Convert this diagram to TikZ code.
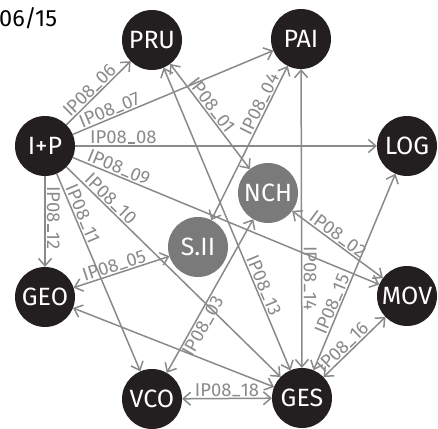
\documentclass[tikz,border=0pt]{standalone}
\usepackage{fontspec}
\setmainfont{Fira Sans}
\usetikzlibrary{arrows.meta}
\definecolor{ink}{RGB}{35,31,32}
\definecolor{midgrey}{RGB}{122,122,122}
\definecolor{wire}{RGB}{138,138,138}
% underscore sitting on the baseline
\newcommand\usc{\kern0.04em\rule{0.42em}{0.075em}\kern0.04em}
\begin{document}
\begin{tikzpicture}[
  hub/.style={circle, fill=ink, text=white, minimum size=60pt, inner sep=0pt, outer sep=0pt,
    font=\fontsize{25}{25}\selectfont},
  subhub/.style={hub, fill=midgrey},
  barb/.tip={Straight Barb[length=7.5pt,width=13pt]},
  link/.style={draw=wire, line width=1.5pt, -barb},
  both/.style={link, barb-barb},
  tag/.style={sloped, text=wire, inner sep=1.2pt, font=\fontsize{18.5}{18.5}\selectfont},
]
\useasboundingbox (0,0) rectangle (438pt,-428pt);

\node[anchor=base west, inner sep=0pt, font=\fontsize{23.5}{23.5}\selectfont] (date) at (-1pt,-27pt) {06/15};

% outer ring
\node[hub] (pru) at (152pt,-40pt)  {PRU};
\node[hub] (pai) at (301pt,-39pt)  {PAI};
\node[hub] (log) at (407pt,-146pt) {LOG};
\node[hub] (mov) at (407pt,-296pt) {MOV};
\node[hub] (ges) at (302pt,-398pt) {GES};
\node[hub] (vco) at (152pt,-399pt) {VCO};
\node[hub] (geo) at (45pt,-297pt)  {GEO};
\node[hub] (ip)  at (45pt,-146pt)  {I+P};
% inner nodes
\node[subhub] (nch) at (268pt,-193pt) {NCH};
\node[subhub] (sii) at (198pt,-247pt) {S.II};

% links leaving I+P
\draw[link] (ip) -- node[tag, above, pos=.45] {IP08\usc06} (pru);
\draw[link] (ip) -- node[tag, above, pos=.2]  {IP08\usc07} (pai);
\draw[link] (ip) -- node[tag, above, pos=.16] {IP08\usc08} (log);
\draw[link] (ip) -- node[tag, above, pos=.14] {IP08\usc09} (mov);
\draw[link] (ip) -- node[tag, above, pos=.18] {IP08\usc10} (ges);
\draw[link] (ip) -- node[tag, above, pos=.22] {IP08\usc11} (vco);
\draw[link] (ip) -- node[tag, above, pos=.46] {IP08\usc12} (geo);

% two-way links
\draw[both] (geo) -- node[tag, above, pos=.45] {IP08\usc05} (sii);
\draw[both] (pru) -- node[tag, above, pos=.44] {IP08\usc01} (nch);
\draw[both] (sii) -- node[tag, above, pos=.73] {IP08\usc04} (pai);
\draw[both] (nch) -- node[tag, above, pos=.45] {IP08\usc02} (mov);
\draw[both] (vco) -- node[tag, below, pos=.33] {IP08\usc03} (nch);
\draw[both] (pru) -- node[tag, above, pos=.73] {IP08\usc13} (ges);
\draw[both] (ges) -- node[tag, above, pos=.3]  {IP08\usc14} (pai);
\draw[both] (ges) -- node[tag, above, pos=.32] {IP08\usc15} (log);
\draw[both] (ges) -- node[tag, above, pos=.4]  {IP08\usc16} (mov);
\draw[both] (vco) -- node[tag, above, pos=.5]  {IP08\usc18} (ges);
\draw[both] (geo) -- (ges);
\end{tikzpicture}
\end{document}
